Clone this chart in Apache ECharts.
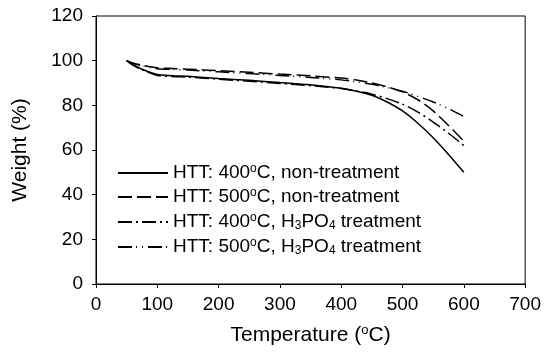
<!DOCTYPE html>
<html>
<head>
<meta charset="utf-8">
<script src="https://cdn.jsdelivr.net/npm/echarts@6/dist/echarts.min.js"></script>
<style>
  html, body { margin: 0; padding: 0; background: #fff; }
  #main { width: 544px; height: 357px; }
</style>
</head>
<body>
<div id="main"></div>
<script>
// 温度点 (°C)
var temps = [50, 60, 75, 100, 125, 150, 200, 250, 300, 350, 400, 425, 450, 475, 500, 525, 550, 575, 600];

// 各条曲线的失重数据 (%)
var htt400Non = [100, 98.3, 96.2, 93.8, 93.3, 93.0, 92.0, 91.2, 90.2, 89.2, 87.6, 86.3, 84.5, 81.5, 77.5, 72.0, 65.5, 58.0, 50.0];
var htt500Non = [100, 99.0, 98.0, 96.8, 96.5, 96.2, 95.5, 94.8, 94.0, 93.2, 92.2, 91.3, 90.0, 88.3, 86.0, 82.5, 77.5, 71.0, 64.0];
var htt400H3 = [100, 98.0, 95.9, 93.4, 92.9, 92.6, 91.7, 90.8, 89.8, 88.8, 87.5, 86.4, 85.0, 83.0, 80.5, 77.0, 72.5, 67.5, 62.0];
var htt500H3 = [100, 98.8, 97.7, 96.4, 96.1, 95.8, 95.0, 94.2, 93.4, 92.5, 91.4, 90.5, 89.4, 88.0, 86.3, 84.0, 81.5, 78.5, 75.0];

// 系列名称和图例文字
var seriesNames = ['s1', 's2', 's3', 's4'];
var legendLabels = {
    s1: '{t|HTT: 400}{sup|o}{t|C, non-treatment}',
    s2: '{t|HTT: 500}{sup|o}{t|C, non-treatment}',
    s3: '{t|HTT: 400}{sup|o}{t|C, H}{sub|3}{t|PO}{sub|4}{t| treatment}',
    s4: '{t|HTT: 500}{sup|o}{t|C, H}{sub|3}{t|PO}{sub|4}{t| treatment}'
};

var dashTypes = ['solid', [14, 5], [14, 4, 2, 4], [14, 4, 1, 5, 1, 5]];
var seriesData = [htt400Non, htt500Non, htt400H3, htt500H3];

var pair = function (arr) {
    return temps.map(function (t, i) { return [t, arr[i]]; });
};

var myChart = echarts.init(document.getElementById('main'));

var series = seriesData.map(function (arr, i) {
    return {
        name: seriesNames[i],
        type: 'line',
        data: pair(arr),
        smooth: 0.3,
        symbol: 'none',
        lineStyle: { color: '#000', width: 1.5, type: dashTypes[i] },
        itemStyle: { color: '#000' }
    };
});

var font = 'Liberation Sans, Arial, sans-serif';

var option = {
    animation: false,
    backgroundColor: '#fff',
    grid: {
        left: 96, right: 18, top: 16, bottom: 73,
        show: true, borderColor: '#000', borderWidth: 1
    },
    legend: {
        show: true,
        orient: 'vertical',
        left: 112,
        top: 158,
        itemWidth: 50,
        itemHeight: 12,
        itemGap: 3,
        itemStyle: { opacity: 0 },
        data: seriesNames,
        formatter: function (name) {
            return legendLabels[name];
        },
        textStyle: {
            fontFamily: font,
            fontSize: 19,
            color: '#000',
            rich: {
                t: { fontFamily: font, fontSize: 19, lineHeight: 20, color: '#000' },
                sup: { fontFamily: font, fontSize: 12, lineHeight: 20, color: '#000', verticalAlign: 'top', padding: [0, 0, 9, 0] },
                sub: { fontFamily: font, fontSize: 12, lineHeight: 20, color: '#000', verticalAlign: 'bottom', padding: [9, 0, 0, 0] }
            }
        }
    },
    xAxis: {
        type: 'value',
        min: 0, max: 700, interval: 100,
        name: '{t|Temperature (}{sup|o}{t|C)}',
        nameLocation: 'middle',
        nameGap: 40,
        nameTextStyle: {
            rich: {
                t: { fontFamily: font, fontSize: 21, color: '#000' },
                sup: { fontFamily: font, fontSize: 13, color: '#000', verticalAlign: 'top', padding: [0, 0, 10, 0] }
            }
        },
        axisLine: { lineStyle: { color: '#000', width: 1 } },
        axisTick: { inside: false, length: 4, lineStyle: { color: '#000' } },
        axisLabel: { fontFamily: font, fontSize: 19, color: '#000', margin: 11 },
        splitLine: { show: false }
    },
    yAxis: {
        type: 'value',
        min: 0, max: 120, interval: 20,
        name: 'Weight (%)',
        nameLocation: 'middle',
        nameGap: 65,
        nameTextStyle: { fontFamily: font, fontSize: 21, color: '#000' },
        axisLine: { show: true, lineStyle: { color: '#000', width: 1 } },
        axisTick: { show: true, inside: false, length: 4, lineStyle: { color: '#000' } },
        axisLabel: { fontFamily: font, fontSize: 19, color: '#000', margin: 13 },
        splitLine: { show: false }
    },
    series: series
};

myChart.setOption(option);
</script>
</body>
</html>
